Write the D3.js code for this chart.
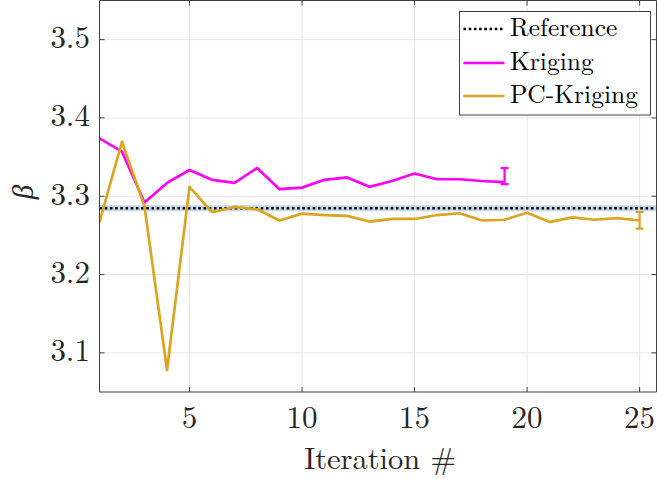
<!DOCTYPE html>
<html>
<head>
<meta charset="utf-8">
<script src="https://cdn.jsdelivr.net/npm/d3@7/dist/d3.min.js"></script>
<style>
  html, body { margin: 0; padding: 0; background: #fff; }
  svg { display: block; }
</style>
</head>
<body>
<svg id="chart" width="657" height="479"></svg>
<script>
// ---- data ----
const iterKriging = [1,2,3,4,5,6,7,8,9,10,11,12,13,14,15,16,17,18,19];
const betaKriging = [3.374,3.357,3.292,3.317,3.3335,3.321,3.317,3.336,3.309,3.311,3.321,3.324,3.312,3.3195,3.329,3.3217,3.3217,3.3195,3.318];
const iterPCK = [1,2,3,4,5,6,7,8,9,10,11,12,13,14,15,16,17,18,19,20,21,22,23,24,25];
const betaPCK = [3.267,3.3696,3.287,3.078,3.312,3.2796,3.2864,3.2834,3.269,3.2778,3.276,3.275,3.2677,3.271,3.271,3.276,3.2783,3.269,3.27,3.279,3.267,3.273,3.27,3.272,3.269];
const errKriging = { iter: 19, low: 3.3155, high: 3.336 };
const errPCK = { iter: 25, low: 3.2587, high: 3.28 };
const betaReference = 3.2847;
const referenceBand = [3.2807, 3.2887];
const xTicks = [5,10,15,20,25];
const yTicks = [3.1,3.2,3.3,3.4,3.5];
const legendLabels = ["Reference","Kriging","PC-Kriging"];
const colors = { kriging: "#ff00ff", pck: "#daa520", ref: "#000000", band: "#c9daec" };
const FONT = "'Latin Modern Roman', 'CMU Serif', 'Liberation Serif', serif";

// ---- layout ----
const svg = d3.select("#chart");
const L = 99.5, R = 656.5, T = 0.5, B = 392;
const x = d3.scaleLinear().domain([1, 25.75]).range([L, R]);
const y = d3.scaleLinear().domain([3.05, 3.55]).range([B, T]);

// grid
const grid = svg.append("g");
grid.selectAll(".gx").data(xTicks).join("line")
  .attr("x1", d => x(d)).attr("x2", d => x(d)).attr("y1", T).attr("y2", B)
  .attr("stroke", "#e6e6e6").attr("stroke-width", 1);
grid.selectAll(".gy").data(yTicks).join("line")
  .attr("y1", d => y(d)).attr("y2", d => y(d)).attr("x1", L).attr("x2", R)
  .attr("stroke", "#e6e6e6").attr("stroke-width", 1);

// clip
svg.append("clipPath").attr("id", "clip").append("rect")
  .attr("x", L).attr("y", T).attr("width", R - L).attr("height", B - T);
const plot = svg.append("g").attr("clip-path", "url(#clip)");

// reference band + line
plot.append("rect")
  .attr("x", L).attr("width", R - L)
  .attr("y", y(referenceBand[1])).attr("height", y(referenceBand[0]) - y(referenceBand[1]))
  .attr("fill", colors.band);
plot.append("line")
  .attr("x1", L).attr("x2", R).attr("y1", y(betaReference)).attr("y2", y(betaReference))
  .attr("stroke", colors.ref).attr("stroke-width", 2.6).attr("stroke-dasharray", "2.6,2.6");

const line = d3.line().x(d => x(d[0])).y(d => y(d[1]));
plot.append("path").datum(iterKriging.map((v, i) => [v, betaKriging[i]]))
  .attr("d", line).attr("fill", "none").attr("stroke", colors.kriging)
  .attr("stroke-width", 2.7).attr("stroke-linejoin", "round");
plot.append("path").datum(iterPCK.map((v, i) => [v, betaPCK[i]]))
  .attr("d", line).attr("fill", "none").attr("stroke", colors.pck)
  .attr("stroke-width", 2.7).attr("stroke-linejoin", "round");

// error bars
function errBar(e, c) {
  const g = plot.append("g").attr("stroke", c).attr("stroke-width", 2.2);
  const cx = x(e.iter), hw = 4;
  g.append("line").attr("x1", cx).attr("x2", cx).attr("y1", y(e.low)).attr("y2", y(e.high));
  g.append("line").attr("x1", cx - hw).attr("x2", cx + hw).attr("y1", y(e.low)).attr("y2", y(e.low));
  g.append("line").attr("x1", cx - hw).attr("x2", cx + hw).attr("y1", y(e.high)).attr("y2", y(e.high));
}
errBar(errKriging, colors.kriging);
errBar(errPCK, colors.pck);

// axes (box with inward ticks)
const axisColor = "#404040";
const tl = 5;
const ax = svg.append("g").attr("stroke", axisColor).attr("stroke-width", 1);
ax.append("line").attr("x1", L).attr("x2", L).attr("y1", T).attr("y2", B);
ax.append("line").attr("x1", L).attr("x2", R).attr("y1", B).attr("y2", B);
ax.append("line").attr("x1", L).attr("x2", R).attr("y1", T).attr("y2", T);
ax.append("line").attr("x1", R).attr("x2", R).attr("y1", T).attr("y2", B);
xTicks.forEach(t => {
  ax.append("line").attr("x1", x(t)).attr("x2", x(t)).attr("y1", B).attr("y2", B - tl);
  ax.append("line").attr("x1", x(t)).attr("x2", x(t)).attr("y1", T).attr("y2", T + tl);
});
yTicks.forEach(t => {
  ax.append("line").attr("x1", L).attr("x2", L + tl).attr("y1", y(t)).attr("y2", y(t));
  ax.append("line").attr("x1", R).attr("x2", R - tl).attr("y1", y(t)).attr("y2", y(t));
});

// tick labels
function label(px, py, str, size, anchor) {
  return svg.append("text")
    .attr("x", px).attr("y", py)
    .attr("font-family", FONT).attr("fill", "#262626")
    .attr("text-anchor", anchor).attr("font-size", size).text(str);
}
xTicks.forEach(t => label(x(t), 428, String(t), 31, "middle"));
yTicks.forEach(t => label(90, y(t) + 8.5, d3.format(".1f")(t), 31, "end"));

// axis titles
label(380, 469, "Iteration #", 30.5, "middle");
svg.append("text")
  .attr("transform", `translate(33,192) rotate(-90)`)
  .attr("font-family", FONT).attr("fill", "#262626")
  .attr("text-anchor", "middle").attr("font-size", 29).attr("font-style", "italic")
  .text("β");

// legend
const lg = svg.append("g");
lg.append("rect").attr("x", 459.5).attr("y", 11.5).attr("width", 191).attr("height", 103.5)
  .attr("fill", "#fff").attr("stroke", "#404040").attr("stroke-width", 1);
const rowsY = [29, 63, 96];
const legendStyles = [
  { c: colors.ref, dash: "2.6,2.6" },
  { c: colors.kriging, dash: null },
  { c: colors.pck, dash: null }
];
legendLabels.forEach((name, i) => {
  lg.append("line").attr("x1", 463.5).attr("x2", 504.5).attr("y1", rowsY[i]).attr("y2", rowsY[i])
    .attr("stroke", legendStyles[i].c).attr("stroke-width", 2.6)
    .attr("stroke-dasharray", legendStyles[i].dash);
  lg.append("text")
    .attr("x", 510).attr("y", rowsY[i] + 6.5)
    .attr("font-family", FONT).attr("fill", "#000")
    .attr("font-size", 25.5).text(name);
});
</script>
</body>
</html>
